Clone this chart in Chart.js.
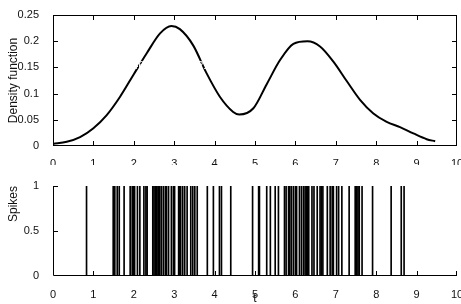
<!DOCTYPE html>
<html>
<head>
  <meta charset="UTF-8">
  <title>Density function and spikes</title>
  <script src="https://cdn.jsdelivr.net/npm/chart.js"></script>
  <style>
    body { margin: 0; background: #fff; }
    #wrap { position: relative; width: 461px; height: 304px; overflow: hidden; }
    canvas { position: absolute; left: 0; }
    #top { top: 0; }
    #bottom { top: 165px; }
    #status { position: absolute; left: 60px; top: 60px; font: 10px sans-serif; color: #fff; }
  </style>
</head>
<body>
  <div id="wrap">
    <canvas id="top" width="461" height="165"></canvas>
    <canvas id="bottom" width="461" height="139"></canvas>
    <div id="status"></div>
  </div>

  <script>
    // density curve
    const densityT = [0, 0.34, 0.67, 1.0, 1.33, 1.66, 2.0, 2.32, 2.65, 2.93, 3.14, 3.47, 3.8, 4.13, 4.46, 4.61,
      4.96, 5.29, 5.62, 5.95, 6.3, 6.61, 6.94, 7.27, 7.6, 7.93, 8.26, 8.59, 8.92, 9.25, 9.46];
    const densityY = [0.004, 0.008, 0.017, 0.034, 0.059, 0.094, 0.137, 0.177, 0.215, 0.229, 0.223, 0.192, 0.139, 0.094, 0.065, 0.060,
      0.072, 0.118, 0.164, 0.195, 0.200, 0.190, 0.161, 0.124, 0.088, 0.062, 0.046, 0.036, 0.024, 0.013, 0.009];

    // spike times
    const spikeTimes = [0.83, 1.49, 1.53, 1.59, 1.64, 1.76, 1.91, 1.96, 2.00, 2.02, 2.09, 2.15, 2.25, 2.30, 2.33,
      2.47, 2.50, 2.53, 2.57, 2.60, 2.62, 2.64, 2.68, 2.73, 2.78, 2.81, 2.86, 2.93, 2.98, 3.01, 3.11, 3.14, 3.16,
      3.21, 3.26, 3.32, 3.41, 3.46, 3.51, 3.57, 3.82, 3.97, 4.12, 4.17, 4.40, 4.94, 5.09, 5.11, 5.29, 5.38, 5.50,
      5.58, 5.73, 5.77, 5.83, 5.86, 5.90, 5.95, 6.00, 6.03, 6.10, 6.15, 6.20, 6.24, 6.27, 6.30, 6.33, 6.41, 6.46,
      6.54, 6.61, 6.64, 6.68, 6.79, 6.86, 6.91, 6.94, 7.02, 7.07, 7.15, 7.33, 7.48, 7.52, 7.55, 7.58, 7.65, 7.91,
      8.37, 8.62, 8.69];

    const xTicks = { min: 0, max: 10, step: 1 };
    const densityTicks = { min: 0, max: 0.25, step: 0.05 };
    const spikeTicks = { min: 0, max: 1, step: 0.5 };

    const font = { family: "'Liberation Sans', Arial, sans-serif", size: 11 };
    const titleFont = { family: "'Liberation Sans', Arial, sans-serif", size: 12 };
    const status = document.getElementById('status');

    // matlab style frame with inward ticks, drawn after the chart
    function makeAxes(box) {
      return {
        id: box ? 'matlabAxesBox' : 'matlabAxes',
        afterDraw(chart) {
          const a = chart.chartArea;
          const xs = chart.scales.x, ys = chart.scales.y;
          status.textContent += `${box} ${a.left},${a.top},${a.right},${a.bottom} ${xs.ticks.length} `;
          const ctx = chart.ctx;
          const L = 4;
          ctx.save();
          ctx.strokeStyle = '#000';
          ctx.lineWidth = 1;
          if (box) {
            ctx.strokeRect(a.left + 0.5, a.top + 0.5, a.right - a.left - 1, a.bottom - a.top - 1);
          } else {
            ctx.beginPath();
            ctx.moveTo(a.left + 0.5, a.top);
            ctx.lineTo(a.left + 0.5, a.bottom - 0.5);
            ctx.lineTo(a.right, a.bottom - 0.5);
            ctx.stroke();
          }
          ctx.beginPath();
          xs.ticks.forEach(tk => {
            const px = Math.min(Math.round(xs.getPixelForValue(tk.value)), a.right - 1) + 0.5;
            ctx.moveTo(px, a.bottom - 1); ctx.lineTo(px, a.bottom - 1 - L);
            if (box) { ctx.moveTo(px, a.top + 1); ctx.lineTo(px, a.top + 1 + L); }
          });
          ys.ticks.forEach(tk => {
            const py = Math.min(Math.round(ys.getPixelForValue(tk.value)), a.bottom - 1) + 0.5;
            ctx.moveTo(a.left + 1, py); ctx.lineTo(a.left + 1 + L, py);
            if (box) { ctx.moveTo(a.right - 1, py); ctx.lineTo(a.right - 1 - L, py); }
          });
          ctx.stroke();
          ctx.restore();
        }
      };
    }

    function fixSize(prop, size) {
      return scale => {
        scale[prop] = size;
        scale.paddingLeft = scale.paddingRight = scale.paddingTop = scale.paddingBottom = 0;
      };
    }

    const fmt = v => String(+(+v).toFixed(3));

    function xScale(height, pad, title) {
      return {
        type: 'linear', min: xTicks.min, max: xTicks.max, offset: false,
        grid: { display: false }, border: { display: false },
        ticks: { stepSize: xTicks.step, font, color: '#111', padding: pad, maxRotation: 0, autoSkip: false, callback: fmt },
        title: title ? { display: true, text: title, font: titleFont, color: '#111', padding: { top: 0, bottom: -2 } } : { display: false },
        afterFit: fixSize('height', height)
      };
    }

    function yScale(tk, title, align) {
      return {
        min: tk.min, max: tk.max,
        grid: { display: false }, border: { display: false },
        ticks: { stepSize: tk.step, font, color: '#111', padding: 6, callback: fmt },
        title: { display: true, text: title, font: titleFont, color: '#111', align, padding: { top: 6, bottom: 0 } },
        afterFit: fixSize('width', 53)
      };
    }

    const topChart = new Chart(document.getElementById('top'), {
      type: 'line',
      data: {
        datasets: [{
          data: densityT.map((t, i) => ({ x: t, y: densityY[i] })),
          borderColor: '#000', borderWidth: 2, pointRadius: 0,
          cubicInterpolationMode: 'monotone', fill: false
        }]
      },
      options: {
        responsive: false, animation: false,
        layout: { padding: { left: 0, top: 15, right: 4, bottom: 0 } },
        plugins: { legend: { display: false }, tooltip: { enabled: false } },
        scales: {
          x: xScale(19, 3),
          y: yScale(densityTicks, 'Density function', 'center')
        }
      },
      plugins: [makeAxes(true)]
    });

    const bottomChart = new Chart(document.getElementById('bottom'), {
      type: 'bar',
      data: {
        datasets: [{
          data: spikeTimes.map(t => ({ x: t, y: 1 })),
          backgroundColor: '#000', borderWidth: 0, barThickness: 1
        }]
      },
      options: {
        responsive: false, animation: false,
        layout: { padding: { left: 0, top: 21, right: 4, bottom: 0 } },
        plugins: { legend: { display: false }, tooltip: { enabled: false } },
        scales: {
          x: xScale(28, 4, 't'),
          y: yScale(spikeTicks, 'Spikes', 'end')
        }
      },
      plugins: [makeAxes(false)]
    });
  </script>
</body>
</html>
